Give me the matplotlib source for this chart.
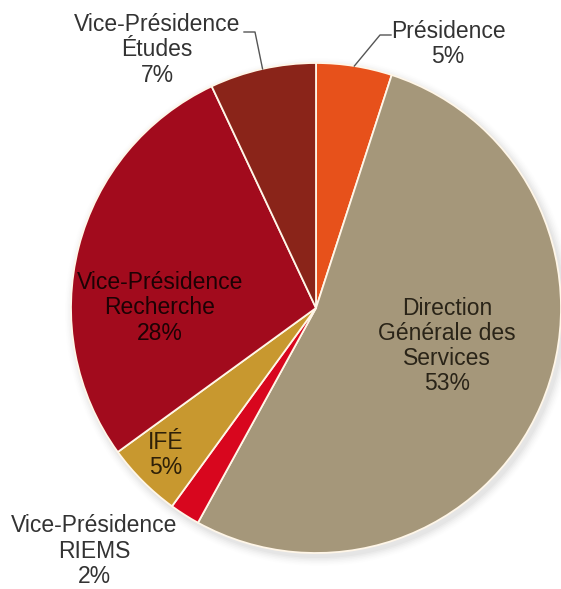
import numpy as np
import matplotlib
matplotlib.use("Agg")
import matplotlib.pyplot as plt
from matplotlib.patches import Circle

plt.rcParams["font.family"] = ["Liberation Sans", "DejaVu Sans"]

# Budget share by department (percent), clockwise from 12 o'clock
categories = [
    "Présidence",
    "Direction\nGénérale des\nServices",
    "Vice-Présidence\nRIEMS",
    "IFÉ",
    "Vice-Présidence\nRecherche",
    "Vice-Présidence\nÉtudes",
]
shares = [5, 53, 2, 5, 28, 7]
colors = ["#E7511B", "#A5977A", "#D8061E", "#C8982F", "#A20B1D", "#8A2419"]

W, H = 561, 589
fig = plt.figure(figsize=(W / 100, H / 100), dpi=100)
ax = fig.add_axes([0, 0, 1, 1])

cx, cy, R = 316, H - 308, 245

# soft drop shadow under the pie
for k, a in enumerate(np.linspace(0.05, 0.012, 6)):
    ax.add_patch(Circle((cx + 3, cy - 4), R + 1 + 1.6 * k, color="#808080",
                        alpha=a, lw=0, zorder=0))

wedges, _ = ax.pie(shares, colors=colors, startangle=90, counterclock=False,
                   center=(cx, cy), radius=R,
                   wedgeprops=dict(edgecolor="#FFF6E8", linewidth=1.3))
for w in wedges:
    w.set_zorder(2)

labels = [f"{c}\n{v}%" for c, v in zip(categories, shares)]
# label block centres (x, y) in pixel layout and text colours
label_pos = [(448, 44), (447, 346), (94, 551), (166, 455), (160, 308), (157, 50)]
label_col = ["#333333", "#2a2418", "#333333", "#2e2008", "#1c0204", "#333333"]

for w, lab, (lx, ly), col in zip(wedges, labels, label_pos, label_col):
    ax.text(lx, H - ly, lab, ha="center", va="center", ma="center",
            fontsize=16.5, color=col, linespacing=1.12, zorder=5)


def rim_point(w):
    mid = np.deg2rad((w.theta1 + w.theta2) / 2)
    return cx + R * np.cos(mid), cy + R * np.sin(mid)


# leader lines for the two labels sitting above the pie
px, py = rim_point(wedges[0])
ax.plot([391, 380, px], [H - 35, H - 35, py], color="#555555", lw=1.0, zorder=4)
ex, ey = rim_point(wedges[5])
ax.plot([244, 255, ex], [H - 32, H - 32, ey], color="#555555", lw=1.0, zorder=4)

ax.set_xlim(0, W)
ax.set_ylim(0, H)
ax.set_aspect("auto")
ax.axis("off")

fig.savefig("out.png", dpi=100, facecolor="white")
